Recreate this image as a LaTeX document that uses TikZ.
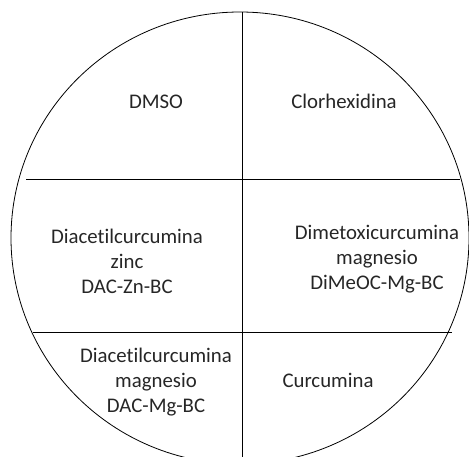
\documentclass[tikz,border=0pt]{standalone}
\usepackage{fontspec}
\setmainfont{Carlito}[Ligatures={NoCommon}]

\begin{document}
\begin{tikzpicture}[x=1pt, y=-1pt,
		label/.style={align=center, text=black!85, inner sep=0pt, font=\fontsize{20.8}{25}\selectfont}]
			\useasboundingbox (0, 0) rectangle (469, 457);
			\clip (0, 0) rectangle (469, 457);

			% the plate
			\draw[line width=0.8pt] (240, 238) ellipse (229 and 226);

			% ends of the dividing lines
			\coordinate (top) at (242, 12);
			\coordinate (bottom) at (242, 470);
			\coordinate (l1) at (26, 179);
			\coordinate (r1) at (460, 179);
			\coordinate (l2) at (33, 332);
			\coordinate (r2) at (452, 332);

			\draw[line width=0.8pt] (top) -- (bottom);
			\draw[line width=0.8pt] (l1) -- (r1);
			\draw[line width=0.8pt] (l2) -- (r2);

			\draw (156, 102) 	node[label] 	(dmso) 		{DMSO};
			\draw (344, 101) 	node[label] 	(chx) 		{Clorhexidina};
			\draw (127, 261) 	node[label] 	(daczn) 	{Diacetilcurcumina\\zinc\\DAC-Zn-BC};
			\draw (377, 259) 	node[label] 	(dimeoc) 	{Dimetoxicurcumina\\magnesio\\DiMeOC-Mg-BC};
			\draw (156, 382) 	node[label] 	(dacmg) 	{Diacetilcurcumina\\magnesio\\DAC-Mg-BC};
			\draw (328, 380) 	node[label] 	(cur) 		{Curcumina};
		\end{tikzpicture}
\end{document}
